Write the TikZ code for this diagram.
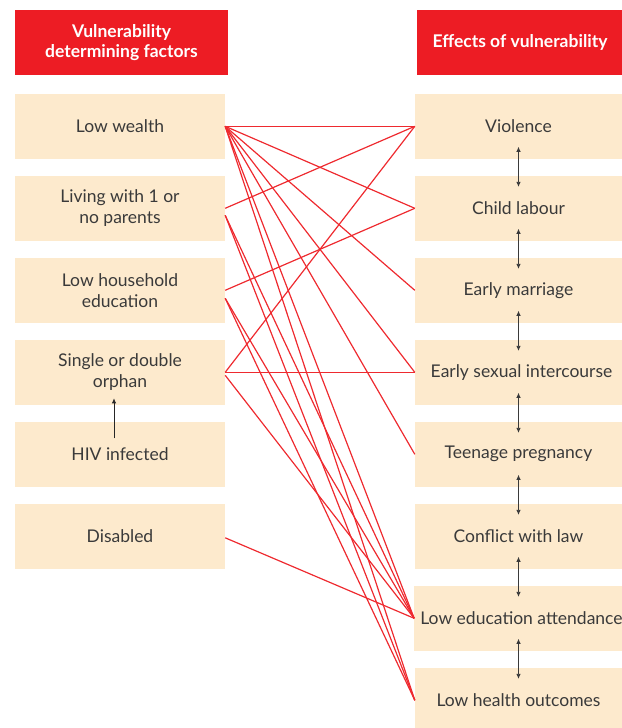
\documentclass[tikz,border=0pt]{standalone}
\usepackage{fontspec}
\setmainfont{Lato}
\usetikzlibrary{arrows.meta}
\definecolor{hdred}{HTML}{ED1C24}
\definecolor{boxbg}{HTML}{FDEACD}
\definecolor{txt}{HTML}{3A3A3A}
\definecolor{lnred}{HTML}{EE2A2F}
\tikzset{
  hdr/.style={fill=hdred, text=white, font=\fontsize{17.5}{20}\selectfont\bfseries, align=center, inner sep=0pt, minimum height=65pt},
  lbox/.style={fill=boxbg, text=txt, font=\fontsize{17.5}{21}\selectfont, align=center, inner sep=0pt, minimum width=210pt, minimum height=64.5pt},
  rbox/.style={fill=boxbg, text=txt, font=\fontsize{17.5}{21}\selectfont, align=center, inner sep=0pt, minimum width=207pt, minimum height=64.5pt},
  link/.style={draw=lnred, line width=1.2pt},
  dbl/.style={draw=txt, line width=0.8pt, {Latex[length=5pt,width=4.5pt]}-{Latex[length=5pt,width=4.5pt]}},
  upar/.style={draw=black!85, line width=0.9pt, -{Latex[length=5pt,width=4.5pt]}}
}
\begin{document}
\begin{tikzpicture}[x=1pt,y=-1pt]
\useasboundingbox (0,0) rectangle (621,728);
% headers
\node[hdr, minimum width=213pt] (hl) at (121.5,42.5) {Vulnerability\\determining factors};
\node[hdr, minimum width=206pt] (hr) at (520,42.5) {Effects of vulnerability};
% left boxes
\node[lbox] (lw)  at (120,126.3) {Low wealth};
\node[lbox] (lp)  at (120,208.3) {Living with 1 or\\no parents};
\node[lbox] (lhe) at (120,290.3) {Low household\\education};
\node[lbox] (sdo) at (120,372.3) {Single or double\\orphan};
\node[lbox] (hiv) at (120,454.3) {HIV infected};
\node[lbox] (dis) at (120,536.3) {Disabled};
% right boxes
\node[rbox] (vio) at (518.5,126.3) {Violence};
\node[rbox] (cl)  at (518.5,208.3) {Child labour};
\node[rbox] (em)  at (518.5,290.3) {Early marriage};
\node[rbox] (es)  at (518.5,372.3) {\hspace*{6pt}Early sexual intercourse};
\node[rbox] (tp)  at (518.5,454.3) {Teenage pregnancy};
\node[rbox] (cwl) at (518.5,536.3) {Conflict with law};
\node[rbox] (lea) at (518.5,618.3) {\hspace*{6pt}Low education attendance};
\node[rbox] (lho) at (518.5,700.3) {Low health outcomes};
% red links
\draw[link] (lw.east) -- (vio.west);
\draw[link] (lw.east) -- (cl.west);
\draw[link] (lw.east) -- (em.west);
\draw[link] (lw.east) -- (es.west);
\draw[link] (lw.east) -- (tp.west);
\draw[link] (lw.east) -- (lea.west);
\draw[link] (lw.east) -- (lho.west);
\draw[link] (lp.east) -- (vio.west);
\draw[link] ([yshift=-7pt]lp.east) -- (lea.west);
\draw[link] ([yshift=-7pt]lp.east) -- (lho.west);
\draw[link] (lhe.east) -- (cl.west);
\draw[link] ([yshift=-8pt]lhe.east) -- (lea.west);
\draw[link] ([yshift=-8pt]lhe.east) -- (lho.west);
\draw[link] (sdo.east) -- (vio.west);
\draw[link] (sdo.east) -- (es.west);
\draw[link] ([yshift=-3pt]sdo.east) -- (lea.west);
\draw[link] ([yshift=-1.5pt]dis.east) -- (lea.west);
% black arrows between effects
\foreach \a/\b in {vio/cl, cl/em, em/es, es/tp, tp/cwl, cwl/lea, lea/lho}{
  \draw[dbl] ([yshift=12pt]\a.south) -- ([yshift=-11pt]\b.north);
}
\draw[upar] ([xshift=-6pt,yshift=16pt]hiv.center) -- ([xshift=-6pt,yshift=6.5pt]sdo.south);
\end{tikzpicture}
\end{document}
